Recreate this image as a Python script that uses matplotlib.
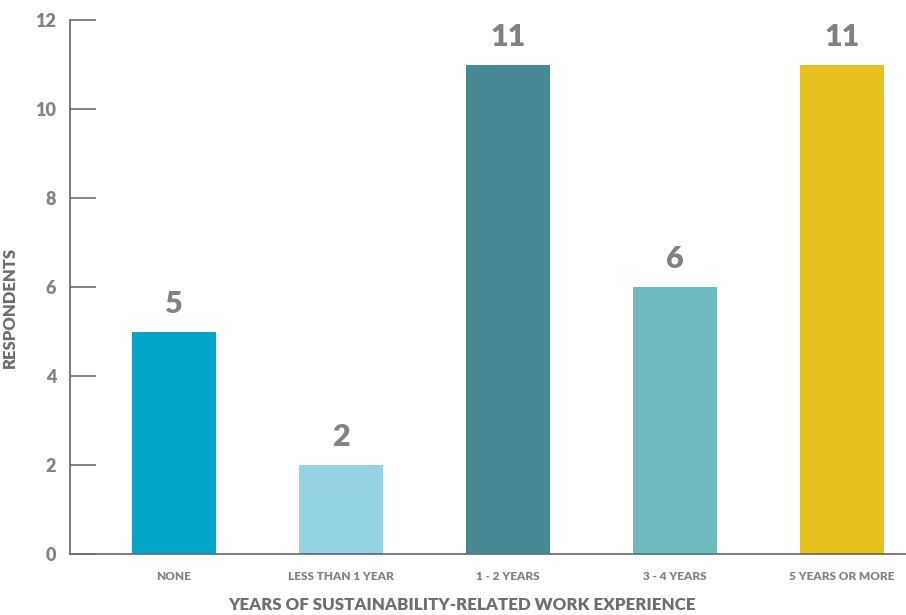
import matplotlib
matplotlib.use("Agg")
import matplotlib.pyplot as plt

categories = ["NONE", "LESS THAN 1 YEAR", "1 - 2 YEARS", "3 - 4 YEARS", "5 YEARS OR MORE"]
values = [5, 2, 11, 6, 11]
colors = ["#00A5C8", "#94D3E3", "#468A94", "#6DBBBF", "#E7C11D"]
yticks = [0, 2, 4, 6, 8, 10, 12]

grey = "#808285"
axis_grey = "#6d6e71"
plt.rcParams["font.family"] = ["Lato", "DejaVu Sans"]

fig = plt.figure(figsize=(9.06, 6.15), dpi=100)
ax = fig.add_axes([70/906, 1-554/615, 1-70/906, (554-20)/615])

x = list(range(len(categories)))
ax.bar(x, values, width=0.503, color=colors, zorder=2)
for xi, v in zip(x, values):
    ax.annotate(str(v), (xi, v), xytext=(0, 10), textcoords="offset points",
                ha="center", va="bottom", fontsize=22, fontweight="heavy", color=grey)

ax.set_xlim(-0.623, 4.383)
ax.set_ylim(0, 12)
ax.set_yticks(yticks)
ax.set_yticklabels([str(t) for t in yticks], fontsize=13, fontweight="heavy", color=grey)
ax.set_xticks(x)
ax.set_xticklabels(categories, fontsize=8.5, fontweight="heavy", color=grey)
ax.tick_params(axis="y", direction="in", length=19, width=1.2, color=axis_grey, pad=10)
ax.tick_params(axis="x", length=0, pad=12)
for s in ["top", "right"]:
    ax.spines[s].set_visible(False)
for s in ["left", "bottom"]:
    ax.spines[s].set_color(axis_grey)
    ax.spines[s].set_linewidth(1.3)

ax.set_ylabel("RESPONDENTS", fontsize=12, fontweight="heavy", color=axis_grey)
ax.yaxis.set_label_coords(-0.062, 0.4625)
ax.set_xlabel("YEARS OF SUSTAINABILITY-RELATED WORK EXPERIENCE", fontsize=12.2,
              fontweight="heavy", color=axis_grey)
ax.xaxis.set_label_coords(0.469, -0.08)

fig.savefig("out.png", dpi=100)
